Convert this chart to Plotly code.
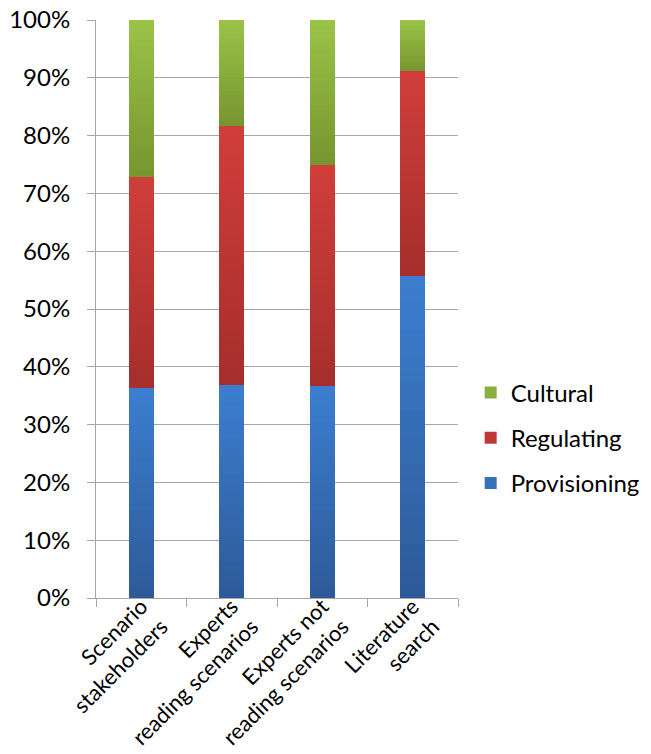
import plotly.graph_objects as go

categories = ["Scenario<br>stakeholders", "Experts<br>reading scenarios",
              "Experts not<br>reading scenarios", "Literature<br>search"]
provisioning = [36.4, 36.9, 36.6, 55.7]
regulating = [36.5, 44.8, 38.3, 35.4]
cultural = [27.1, 18.3, 25.1, 8.9]
y_ticks = [0, 10, 20, 30, 40, 50, 60, 70, 80, 90, 100]
y_tick_labels = [f"{v}%" for v in y_ticks]

# (name, values, gradient colour at segment bottom, at segment top, legend colour, legend rank)
series = [
    ("Provisioning", provisioning, (0x2D, 0x5A, 0x98), (0x3C, 0x7E, 0xD0), "#3670B8", 3),
    ("Regulating", regulating, (0xA5, 0x2E, 0x2C), (0xD1, 0x3E, 0x3A), "#BE3836", 2),
    ("Cultural", cultural, (0x77, 0x95, 0x2F), (0x9B, 0xC3, 0x48), "#8AB03F", 1),
]
N_SLICES = 24


def mix(c0, c1, t):
    return "rgb(%d,%d,%d)" % tuple(round(a + (b - a) * t) for a, b in zip(c0, c1))


fig = go.Figure()
for name, vals, c_bot, c_top, leg_color, rank in series:
    for k in range(N_SLICES):
        t = (k + 0.5) / N_SLICES
        fig.add_trace(go.Bar(
            x=categories, y=[v / N_SLICES for v in vals],
            name=name, legendgroup=name, showlegend=False,
            marker=dict(color=mix(c_bot, c_top, t), line=dict(width=0)),
            width=0.28, hoverinfo="skip",
        ))
    # legend entry only (zero-height bars)
    fig.add_trace(go.Bar(
        x=categories, y=[0] * len(categories), name=name, legendgroup=name,
        showlegend=True, legendrank=rank,
        marker=dict(color=leg_color, line=dict(width=0)), width=0.28,
        hoverinfo="skip",
    ))

font_family = "Lato, 'Open Sans', sans-serif"
fig.update_layout(
    barmode="stack",
    width=651, height=754,
    margin=dict(l=96, r=193, t=20, b=156, autoexpand=False),
    plot_bgcolor="white", paper_bgcolor="white",
    font=dict(family=font_family, size=24, color="#000000"),
    showlegend=True,
    legend=dict(
        traceorder="grouped", tracegroupgap=11,
        x=1.035, xanchor="left", y=0.277, yanchor="middle",
        font=dict(size=24, color="#000000"),
        bgcolor="rgba(0,0,0,0)",
    ),
)
fig.update_yaxes(
    range=[0, 100], tickvals=y_ticks, ticktext=y_tick_labels,
    showgrid=True, gridcolor="#A6A6A6", gridwidth=1,
    showline=True, linecolor="#A6A6A6", linewidth=1,
    ticks="outside", ticklen=8, tickcolor="#A6A6A6",
    zeroline=False, automargin=False, ticklabelstandoff=12,
)
fig.update_xaxes(
    tickangle=-45, showline=True, linecolor="#A6A6A6", linewidth=1,
    ticks="outside", ticklen=8, tickcolor="#A6A6A6", tickson="boundaries",
    showgrid=False, automargin=False, tickfont=dict(size=22),
    ticklabelstandoff=-14,
)
fig.write_html("out.html")
